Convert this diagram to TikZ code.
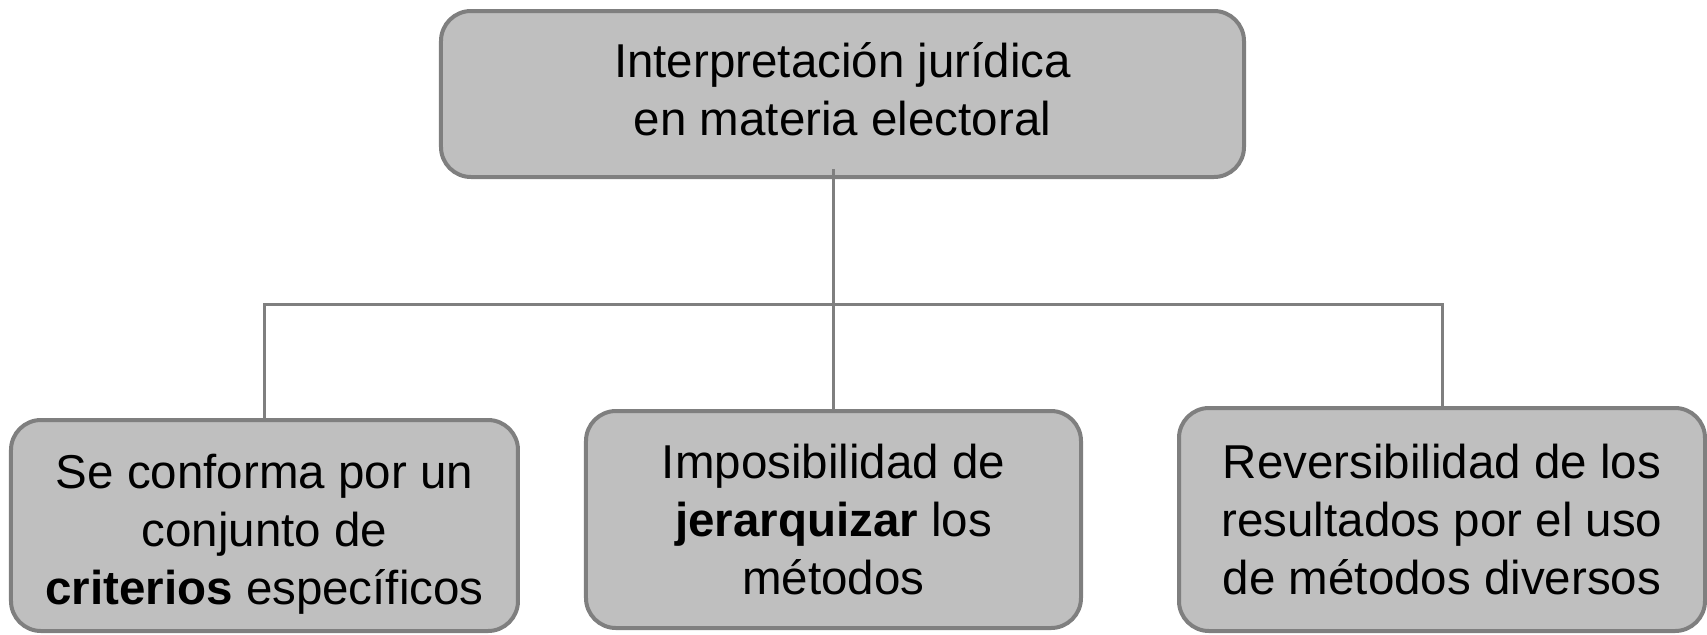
\documentclass[tikz,border=0pt]{standalone}
\usepackage{fontspec}
\setmainfont{Liberation Sans}
\usepackage{tikz}
\definecolor{boxfill}{HTML}{BFBFBF}
\definecolor{boxline}{HTML}{7F7F7F}
\tikzset{
  box/.style={rectangle, rounded corners=15pt, draw=boxline, fill=boxfill,
    line width=2pt, align=center, inner sep=0pt,
    font=\fontsize{23.75}{29}\selectfont},
  link/.style={draw=boxline, line width=1.5pt}
}
\begin{document}
\begin{tikzpicture}[node distance=210pt]
      \useasboundingbox (-421.25pt,47pt) rectangle (432.25pt,-270pt);
      \node[box,minimum width=401.5pt,minimum height=83pt] (1) {Interpretación jurídica\\en materia electoral\rule[-5.4pt]{0pt}{0pt}};
      \node[box,below of=1,xshift=-289pt,yshift=-5.75pt,minimum width=253.5pt,minimum height=105.5pt] (2) {\rule{0pt}{26pt}Se conforma por un\\conjunto de\\\textbf{criterios} específicos};
      \node[box,below of=1,xshift=-4.5pt,yshift=-2.75pt,minimum width=247.5pt,minimum height=108.5pt] (3) {Imposibilidad de\\\textbf{jerarquizar} los\\métodos};
      \node[box,below of=1,xshift=299.75pt,yshift=-2.75pt,minimum width=263pt,minimum height=111.5pt] (4) {Reversibilidad de los\\resultados por el uso\\de métodos diversos};

      \draw[link] (3.north) -- ([yshift=5pt]3.north |- 1.south);
      \draw[link] (2.north) -- ++(0,57pt) -| (4.north);
    \end{tikzpicture}
\end{document}
